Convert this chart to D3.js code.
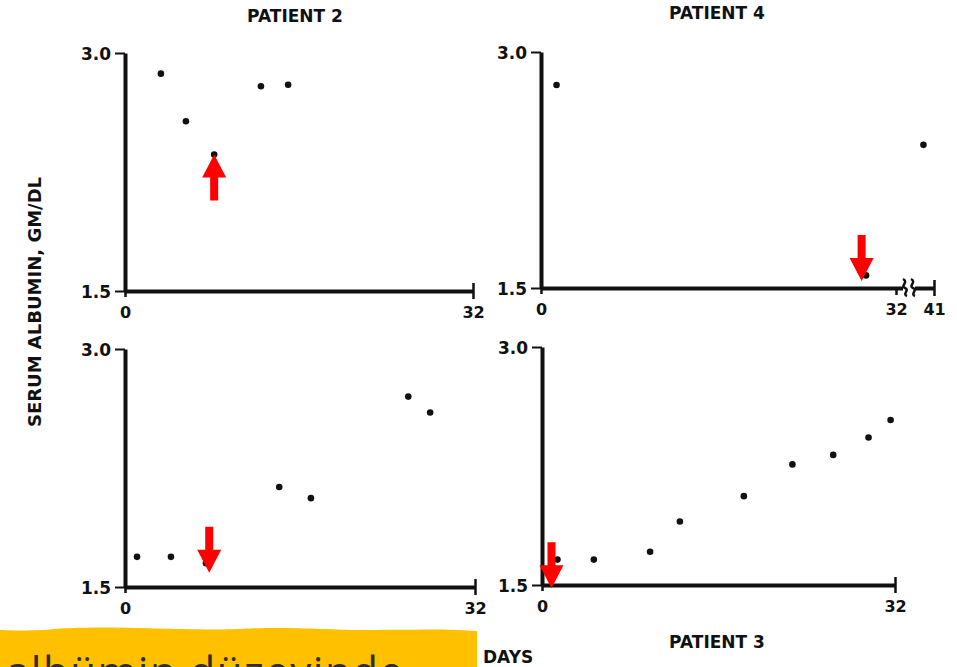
<!DOCTYPE html>
<html>
<head>
<meta charset="utf-8">
<script src="https://cdn.jsdelivr.net/npm/d3@7"></script>
<style>
  html, body { margin: 0; padding: 0; background: #fff; }
  svg { display: block; }
  .lbl { font-family: "DejaVu Sans", sans-serif; font-weight: bold; fill: #111; }
</style>
</head>
<body>
<script>
// serum albumin (g/dl) by day
var patient2Days = [3.3, 5.6, 8.2, 12.5, 15.0];
var patient2Albumin = [2.87, 2.57, 2.36, 2.79, 2.80];

var patient4Days = [1.4, 29.3, 38.5];
var patient4Albumin = [2.79, 1.58, 2.41];

var patient1Days = [1.1, 4.2, 7.4, 14.1, 17.0, 25.9, 27.9];
var patient1Albumin = [1.69, 1.69, 1.65, 2.13, 2.06, 2.70, 2.60];

var patient3Days = [1.4, 4.7, 9.8, 12.5, 18.3, 22.7, 26.4, 29.6, 31.6];
var patient3Albumin = [1.66, 1.66, 1.71, 1.90, 2.06, 2.26, 2.32, 2.43, 2.54];

var yTicks = [1.5, 3.0];
var xTicks = [0, 32];
var xTicksBroken = [0, 32, 41];

// red arrows drawn on top: where the tip points (day, albumin) and direction
var arrows2 = [{ day: 8.2, value: 2.36, dir: "up" }];
var arrows4 = [{ day: 28.9, value: 1.545, dir: "down" }];
var arrows1 = [{ day: 7.7, value: 1.59, dir: "down" }];
var arrows3 = [{ day: 0.86, value: 1.48, dir: "down" }];

var W = 957, H = 667;

var svg = d3.select("body").append("svg")
  .attr("width", W)
  .attr("height", H);

svg.append("rect").attr("width", W).attr("height", H).attr("fill", "#fff");

var panels = [
  { title: "PATIENT 2", titleX: 295, titleY: 22, left: 125, width: 348, top: 53, height: 238,
    days: patient2Days, vals: patient2Albumin, arrows: arrows2 },
  { title: "PATIENT 4", titleX: 717, titleY: 19, left: 541, width: 393, top: 52, height: 236,
    days: patient4Days, vals: patient4Albumin, arrows: arrows4, broken: true },
  { title: null, left: 125, width: 350, top: 349, height: 238,
    days: patient1Days, vals: patient1Albumin, arrows: arrows1 },
  { title: "PATIENT 3", titleX: 717, titleY: 648, left: 542, width: 353, top: 347, height: 238,
    days: patient3Days, vals: patient3Albumin, arrows: arrows3 }
];

panels.forEach(function (p) {
  var g = svg.append("g").attr("transform", "translate(" + p.left + "," + p.top + ")");

  var x;
  if (p.broken) {
    x = d3.scaleLinear().domain([0, 32, 41]).range([0, 355, p.width]);
  } else {
    x = d3.scaleLinear().domain([0, 32]).range([0, p.width]);
  }
  var y = d3.scaleLinear().domain([1.5, 3.0]).range([p.height, 0]);

  // y axis
  var yAxis = g.append("g")
    .call(d3.axisLeft(y).tickValues(yTicks).tickFormat(d3.format(".1f"))
      .tickSize(10).tickSizeOuter(0).tickPadding(4));
  yAxis.select(".domain").attr("stroke", "#111").attr("stroke-width", 4);
  yAxis.selectAll(".tick line").attr("stroke", "#111").attr("stroke-width", 2);
  yAxis.selectAll(".tick text").attr("class", "lbl").style("font-size", "17px")
    .attr("font-family", null).attr("dy", "0.36em");

  // x axis
  var xAxis = g.append("g")
    .attr("transform", "translate(0," + p.height + ")")
    .call(d3.axisBottom(x).tickValues(p.broken ? xTicksBroken : xTicks)
      .tickFormat(d3.format("d")).tickSize(7).tickSizeOuter(0).tickPadding(9));
  xAxis.select(".domain").attr("stroke", "#111").attr("stroke-width", 4);
  xAxis.selectAll(".tick line").attr("stroke", "#111").attr("stroke-width", 2.5);
  xAxis.selectAll(".tick text").attr("class", "lbl").style("font-size", "16px").attr("font-family", null);
  // end tick crosses the axis
  xAxis.selectAll(".tick").filter(function (d) { return d === (p.broken ? 41 : 32); })
    .select("line").attr("y1", -8).attr("y2", 8);
  xAxis.selectAll(".tick").filter(function (d) { return d === 0; })
    .select("line").attr("y2", 6);

  if (p.broken) {
    var bx = x(32) + 9;
    // white gap in the domain line, then the squiggles
    xAxis.append("rect").attr("x", bx - 2).attr("y", -4).attr("width", 12).attr("height", 8).attr("fill", "#fff");
    [bx, bx + 8].forEach(function (sx) {
      xAxis.append("path")
        .attr("d", "M" + (sx - 2) + ",-9 C" + (sx + 4) + ",-6 " + (sx - 5) + ",-2 " + sx + ",0 S" + (sx - 3) + ",6 " + (sx + 2) + ",8")
        .attr("fill", "none").attr("stroke", "#111").attr("stroke-width", 2.5);
    });
  }

  // points
  g.selectAll("circle.pt")
    .data(d3.zip(p.days, p.vals))
    .enter().append("circle")
    .attr("class", "pt")
    .attr("cx", function (d) { return x(d[0]); })
    .attr("cy", function (d) { return y(d[1]); })
    .attr("r", 3.3)
    .attr("fill", "#111");

  // title
  if (p.title) {
    svg.append("text").attr("class", "lbl")
      .attr("x", p.titleX).attr("y", p.titleY)
      .attr("text-anchor", "middle")
      .style("font-size", "17px")
      .text(p.title);
  }

  // red arrows
  g.selectAll("path.arrow")
    .data(p.arrows)
    .enter().append("path")
    .attr("class", "arrow")
    .attr("fill", "#ff0000")
    .attr("d", function (a) {
      var s = a.dir === "up" ? 1 : -1;
      var tx = x(a.day), ty = y(a.value);
      var hl = 23, hw = 12, sw = 4, len = 46;
      return "M" + tx + "," + ty +
        "L" + (tx + hw) + "," + (ty + s * hl) +
        "L" + (tx + sw) + "," + (ty + s * hl) +
        "L" + (tx + sw) + "," + (ty + s * len) +
        "L" + (tx - sw) + "," + (ty + s * len) +
        "L" + (tx - sw) + "," + (ty + s * hl) +
        "L" + (tx - hw) + "," + (ty + s * hl) + "Z";
    });
});

// shared axis titles
svg.append("text").attr("class", "lbl")
  .attr("transform", "translate(41,302) rotate(-90)")
  .attr("text-anchor", "middle")
  .style("font-size", "18px")
  .text("SERUM ALBUMIN, GM/DL");

svg.append("text").attr("class", "lbl")
  .attr("x", 483).attr("y", 663)
  .style("font-size", "17px")
  .text("DAYS");

// yellow caption strip over the lower left corner
var strip = svg.append("g");
var waveTop = [[0, 630], [40, 631], [60, 628], [110, 627], [170, 629], [230, 630], [250, 628], [300, 628], [340, 630], [400, 630], [440, 629], [477, 631]];
strip.append("path")
  .attr("d", d3.line().curve(d3.curveBasis)(waveTop) + "L477,667L0,667Z")
  .attr("fill", "#ffc000");
strip.append("text")
  .attr("x", 6).attr("y", 687)
  .attr("font-family", "'Open Sans', sans-serif")
  .style("font-size", "42px")
  .style("letter-spacing", "1.5px")
  .attr("fill", "#2e2e2e")
  .text("albümin düzeyinde");
</script>
</body>
</html>
